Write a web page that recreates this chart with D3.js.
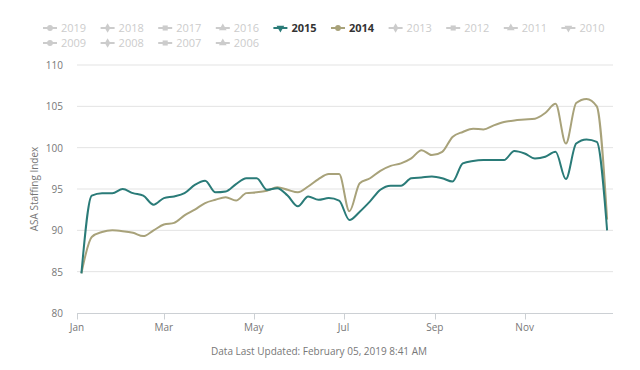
<!DOCTYPE html>
<html>
<head>
<meta charset="utf-8">
<script src="https://cdn.jsdelivr.net/npm/d3@7/dist/d3.min.js"></script>
<style>
  body { margin: 0; background: #fff; }
  svg { font-family: "Open Sans", sans-serif; }
</style>
</head>
<body>
<svg id="chart" width="640" height="370"></svg>
<script>
// legend years (hidden ones shown grey)
const legendYears = ['2019', '2018', '2017', '2016', '2015', '2014', '2013', '2012', '2011', '2010', '2009', '2008', '2007', '2006']
const shownYears = ['2015', '2014']
const symbols = ['circle', 'diamond', 'square', 'triangle', 'triangle-down']

const monthTicks = ['Jan', 'Mar', 'May', 'Jul', 'Sep', 'Nov']
const yTicks = [80, 85, 90, 95, 100, 105, 110]

// weekly index values, week 1 .. week 52
const values2015 = [84.8, 94.2, 94.5, 94.5, 95.0, 94.5, 94.2, 93.1, 93.9, 94.1, 94.5, 95.5, 96.0, 94.6, 94.7, 95.6,
  96.3, 96.3, 94.9, 95.1, 94.2, 92.9, 94.1, 93.7, 93.9, 93.6, 91.25, 92.25, 93.5, 94.9, 95.4, 95.4, 96.3, 96.4, 96.5,
  96.3, 95.9, 98.1, 98.4, 98.5, 98.5, 98.5, 99.6, 99.3, 98.7, 98.9, 99.5, 96.2, 100.5, 101.0, 100.7, 90.0]
const values2014 = [84.8, 89.2, 89.8, 90.0, 89.9, 89.7, 89.3, 90.0, 90.7, 90.9, 91.8, 92.5, 93.3, 93.7, 94.0, 93.6,
  94.5, 94.6, 94.8, 95.2, 94.9, 94.6, 95.3, 96.2, 96.8, 96.8, 92.3, 95.7, 96.3, 97.2, 97.8, 98.1, 98.7, 99.7, 99.1,
  99.5, 101.3, 101.9, 102.3, 102.2, 102.7, 103.1, 103.3, 103.4, 103.5, 104.2, 105.3, 100.5, 105.4, 105.9, 105.0, 91.3]

const colors = { '2015': '#2a7b78', '2014': '#a8a27a' }

const svg = d3.select('#chart')
const margin = { left: 77, right: 27, top: 65, bottom: 57 }
const W = 640, H = 370

const start = new Date(2015, 0, 1)
const end = new Date(2015, 11, 31)
const firstWeek = new Date(2015, 0, 4)
const dates = values2015.map((v, i) => d3.timeDay.offset(firstWeek, i * 7))

const x = d3.scaleTime().domain([start, end]).range([margin.left, W - margin.right])
const y = d3.scaleLinear().domain([80, 110]).range([H - margin.bottom, margin.top])

// grid
svg.append('g').selectAll('line')
  .data(yTicks.filter(t => t > 80))
  .enter().append('line')
  .attr('x1', margin.left).attr('x2', W - margin.right)
  .attr('y1', d => y(d)).attr('y2', d => y(d))
  .attr('stroke', '#e3e3e3').attr('stroke-width', 1)

// y labels
svg.append('g').selectAll('text')
  .data(yTicks)
  .enter().append('text')
  .attr('x', 63).attr('y', d => y(d) + 4)
  .attr('text-anchor', 'end')
  .attr('font-size', 10).attr('fill', '#777')
  .text(d => d)

svg.append('text')
  .attr('transform', 'translate(38,' + y(95) + ')rotate(-90)')
  .attr('text-anchor', 'middle')
  .attr('font-size', 10).attr('fill', '#777')
  .text('ASA Staffing Index')

// x axis
const xAxis = svg.append('g').attr('transform', 'translate(0,' + (y(80) + 0.5) + ')')
xAxis.append('line')
  .attr('x1', margin.left).attr('x2', W - margin.right)
  .attr('stroke', '#ccd0d4')
const monthDates = monthTicks.map((m, i) => new Date(2015, i * 2, 1))
xAxis.selectAll('.tick')
  .data(monthDates)
  .enter().append('line')
  .attr('x1', d => Math.round(x(d)) + 0.5).attr('x2', d => Math.round(x(d)) + 0.5)
  .attr('y1', 0).attr('y2', 6)
  .attr('stroke', '#ccd0d4')
xAxis.selectAll('text')
  .data(monthDates)
  .enter().append('text')
  .attr('x', d => x(d)).attr('y', 17)
  .attr('text-anchor', 'middle')
  .attr('font-size', 10).attr('fill', '#777')
  .text((d, i) => monthTicks[i])

// lines
const line = d3.line()
  .x((d, i) => x(dates[i]))
  .y(d => y(d))
  .curve(d3.curveMonotoneX)

const series = [['2014', values2014], ['2015', values2015]]
series.forEach(([name, vals]) => {
  svg.append('path')
    .datum(vals)
    .attr('d', line)
    .attr('fill', 'none')
    .attr('stroke', colors[name])
    .attr('stroke-width', 2)
})

// legend
const legend = svg.append('g')
legendYears.forEach((yr, i) => {
  const col = i % 10, row = Math.floor(i / 10)
  const lx = 43 + col * 57.6, ly = 28 + row * 15
  const on = shownYears.includes(yr)
  const c = on ? colors[yr] : '#ccc'
  const g = legend.append('g').attr('transform', 'translate(' + lx + ',' + ly + ')')
  g.append('line').attr('x1', 0).attr('x2', 14).attr('stroke', c).attr('stroke-width', 2)
  const sym = {
    circle: d3.symbolCircle, diamond: d3.symbolDiamond, square: d3.symbolSquare,
    triangle: d3.symbolTriangle, 'triangle-down': d3.symbolTriangle
  }[symbols[i % 5]]
  g.append('path')
    .attr('d', d3.symbol().type(sym).size(26)())
    .attr('transform', 'translate(7,0)' + (symbols[i % 5] === 'triangle-down' ? 'rotate(180)' : ''))
    .attr('fill', c)
  g.append('text')
    .attr('x', 18).attr('y', 4)
    .attr('font-size', 11)
    .attr('font-weight', on ? 'bold' : 'normal')
    .attr('fill', on ? '#333' : '#ccc')
    .text(yr)
})

// footer
svg.append('text')
  .attr('x', 319).attr('y', 355)
  .attr('text-anchor', 'middle')
  .attr('font-size', 10).attr('fill', '#777')
  .text('Data Last Updated: February 05, 2019 8:41 AM')
</script>
</body>
</html>
